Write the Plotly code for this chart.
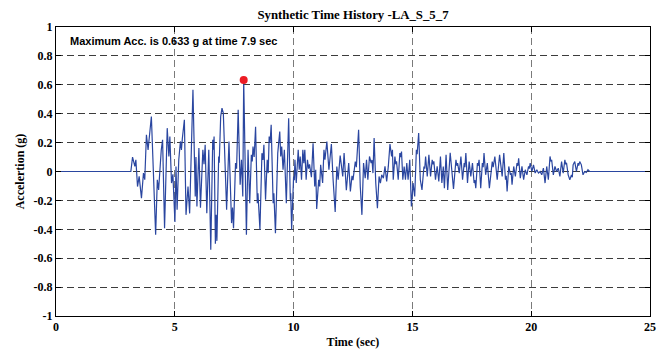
import plotly.graph_objects as go

# Ground-motion record: time (s) and acceleration (g) at the turning points of the trace
time_s = [
    0.0, 3.15, 3.222, 3.319, 3.361, 3.431, 3.5, 3.597, 3.681, 3.736, 3.806, 3.875,
    4.014, 4.097, 4.194, 4.264, 4.319, 4.431, 4.486, 4.569, 4.681, 4.75, 4.792, 4.861,
    4.92, 5.005, 5.05, 5.097, 5.167, 5.236, 5.278, 5.319, 5.403, 5.472, 5.556, 5.625,
    5.764, 5.861, 5.89, 5.931, 6.014, 6.08, 6.181, 6.23, 6.278, 6.347, 6.431, 6.514,
    6.597, 6.625, 6.653, 6.708, 6.74, 6.772, 6.847, 6.87, 6.931, 6.986, 7.042, 7.111,
    7.181, 7.28, 7.389, 7.43, 7.472, 7.556, 7.6, 7.667, 7.75, 7.806, 7.861, 7.9,
    8.014, 8.083, 8.153, 8.222, 8.26, 8.292, 8.34, 8.4, 8.472, 8.5, 8.583, 8.667,
    8.71, 8.75, 8.819, 8.889, 8.931, 8.972, 9.01, 9.056, 9.139, 9.17, 9.236, 9.333,
    9.417, 9.458, 9.5, 9.556, 9.611, 9.694, 9.792, 9.861, 9.88, 9.917, 10.0, 10.03,
    10.056, 10.111, 10.194, 10.236, 10.278, 10.333, 10.389, 10.431, 10.472, 10.528, 10.583, 10.63,
    10.67, 10.75, 10.819, 10.889, 10.931, 10.972, 11.056, 11.097, 11.139, 11.222, 11.278, 11.319,
    11.4, 11.486, 11.59, 11.66, 11.75, 11.819, 11.875, 11.96, 12.069, 12.125, 12.22, 12.319,
    12.389, 12.458, 12.5, 12.597, 12.64, 12.736, 12.806, 12.875, 12.944, 13.014, 13.069, 13.125,
    13.194, 13.264, 13.3, 13.34, 13.389, 13.458, 13.528, 13.597, 13.653, 13.708, 13.778, 13.847,
    13.917, 13.986, 14.056, 14.125, 14.16, 14.194, 14.264, 14.3, 14.333, 14.403, 14.472, 14.5,
    14.542, 14.597, 14.653, 14.708, 14.764, 14.819, 14.889, 14.958, 15.028, 15.097, 15.167, 15.2,
    15.264, 15.333, 15.403, 15.486, 15.52, 15.556, 15.625, 15.694, 15.764, 15.833, 15.87, 15.903,
    15.972, 16.042, 16.111, 16.181, 16.24, 16.3, 16.347, 16.417, 16.486, 16.59, 16.73, 16.833,
    16.87, 16.903, 16.972, 17.042, 17.111, 17.181, 17.21, 17.25, 17.319, 17.389, 17.458, 17.528,
    17.597, 17.63, 17.667, 17.736, 17.77, 17.806, 17.875, 17.944, 17.98, 18.014, 18.083, 18.153,
    18.24, 18.361, 18.4, 18.47, 18.569, 18.67, 18.778, 18.847, 18.917, 18.95, 18.986, 19.056,
    19.125, 19.16, 19.194, 19.264, 19.333, 19.403, 19.44, 19.472, 19.542, 19.611, 19.681, 19.75,
    19.819, 19.889, 19.92, 19.958, 20.028, 20.097, 20.167, 20.236, 20.306, 20.375, 20.444, 20.514,
    20.583, 20.653, 20.722, 20.792, 20.83, 20.861, 20.931, 21.0, 21.069, 21.139, 21.208, 21.278,
    21.347, 21.417, 21.45, 21.486, 21.556, 21.625, 21.694, 21.73, 21.764, 21.833, 21.903, 21.972,
    22.0, 22.042, 22.111, 22.181, 22.25, 22.319, 22.389, 22.458, 25.0,
]
accel_g = [
    0.0, 0.0, 0.099, 0.035, 0.081, -0.104, -0.034, -0.184, -0.011, -0.057, 0.254, 0.15,
    0.381, -0.011, -0.438, -0.057, -0.127, 0.15, 0.219, -0.392, 0.3, 0.104, 0.242, -0.08,
    -0.02, -0.35, 0.035, -0.265, 0.081, 0.208, 0.15, 0.231, 0.358, -0.3, -0.104, -0.29,
    0.565, -0.173, 0.1, -0.242, 0.162, -0.25, 0.15, 0.05, 0.185, -0.288, 0.15, -0.542,
    0.219, 0.15, 0.242, -0.5, -0.3, -0.48, 0.104, 0.06, 0.381, 0.439, 0.404, 0.127,
    -0.265, 0.208, -0.357, -0.25, -0.392, 0.058, 0.02, 0.427, -0.092, 0.081, -0.173, 0.633,
    -0.438, 0.15, -0.219, 0.116, 0.07, 0.173, 0.1, 0.31, -0.219, -0.15, -0.403, 0.127,
    0.08, 0.185, -0.196, 0.081, -0.011, 0.242, 0.2, 0.323, -0.219, -0.15, -0.427, 0.127,
    0.277, 0.104, 0.173, 0.012, 0.15, -0.219, 0.369, -0.196, -0.15, -0.403, -0.034, -0.06,
    0.081, -0.08, 0.15, 0.012, 0.104, -0.057, 0.15, 0.058, 0.15, -0.057, 0.081, 0.02,
    0.05, -0.04, 0.196, -0.104, 0.012, -0.26, -0.057, -0.104, 0.046, -0.08, 0.15, 0.081,
    0.208, 0.012, 0.19, -0.05, -0.28, 0.035, -0.057, 0.11, -0.034, 0.127, -0.13, 0.058,
    -0.138, -0.03, -0.06, 0.069, 0.03, 0.289, -0.104, -0.3, 0.058, -0.046, 0.081, -0.057,
    0.104, 0.058, 0.08, -0.011, 0.231, -0.08, -0.254, -0.034, -0.08, -0.023, -0.046, 0.035,
    -0.069, 0.035, 0.19, 0.104, 0.15, -0.057, 0.104, 0.05, 0.07, -0.057, 0.127, 0.1,
    0.138, -0.057, 0.035, -0.057, 0.058, -0.057, 0.081, -0.242, -0.08, -0.173, 0.15, 0.12,
    0.266, -0.057, -0.127, 0.035, 0.02, 0.104, -0.034, 0.115, -0.034, 0.081, 0.05, 0.07,
    -0.057, 0.035, -0.069, 0.104, -0.08, 0.035, -0.115, 0.116, -0.127, 0.13, -0.12, 0.081,
    0.04, 0.058, -0.011, 0.104, -0.057, 0.058, 0.03, 0.127, -0.08, 0.069, -0.034, 0.058,
    -0.08, -0.06, -0.115, 0.058, 0.04, 0.081, -0.115, 0.058, 0.03, 0.127, -0.023, 0.058,
    -0.115, 0.069, 0.03, 0.104, -0.057, 0.115, -0.034, 0.127, -0.057, -0.03, -0.138, 0.035,
    -0.023, -0.01, -0.092, 0.035, -0.034, 0.058, 0.04, 0.092, -0.046, 0.035, -0.057, 0.012,
    -0.023, 0.035, 0.02, 0.058, 0.0, 0.046, -0.011, 0.012, -0.011, 0.0, -0.023, 0.023,
    -0.08, 0.035, -0.057, 0.104, 0.07, 0.081, -0.023, 0.035, 0.0, 0.023, -0.034, 0.069,
    -0.011, 0.081, 0.05, 0.06, -0.023, -0.057, -0.023, -0.04, 0.046, 0.069, 0.0, 0.058,
    0.04, 0.069, 0.046, -0.023, 0.0, -0.007, 0.012, 0.0, 0.0,
]

# Peak ground acceleration and when it occurs
peak_time = 7.9
peak_acc = 0.633

# Axis ticks
x_ticks = [0, 5, 10, 15, 20, 25]
y_ticks = [-1, -0.8, -0.6, -0.4, -0.2, 0, 0.2, 0.4, 0.6, 0.8, 1]
y_tick_labels = ["-1", "-0.8", "-0.6", "-0.4", "-0.2", "0", "0.2", "0.4", "0.6", "0.8", "1"]

serif = "Liberation Serif, Times New Roman, serif"
sans = "Liberation Sans, Arial, sans-serif"

fig = go.Figure()
fig.add_trace(go.Scatter(
    x=time_s, y=accel_g, mode="lines",
    line=dict(color="#2a46a0", width=1.2),
    hoverinfo="skip", showlegend=False,
))
fig.add_trace(go.Scatter(
    x=[peak_time], y=[peak_acc], mode="markers",
    marker=dict(color="#ec1c24", size=8, line=dict(width=0)),
    showlegend=False,
))

fig.add_annotation(
    text=f"Maximum Acc. is {peak_acc:.3f} g at time {peak_time:.1f} sec",
    xref="paper", yref="y", x=0.02, y=0.9,
    xanchor="left", yanchor="middle", showarrow=False,
    font=dict(family=sans, size=11, color="black", weight="bold"),
)

axis_common = dict(
    showline=True, linecolor="black", linewidth=1, mirror="allticks",
    ticks="inside", ticklen=5, tickcolor="black", tickwidth=1,
    zeroline=False, showgrid=True, gridwidth=1,
    tickfont=dict(family=serif, size=12, color="black", weight="bold"),
)

fig.update_layout(
    width=665, height=356,
    margin=dict(l=56, r=9, t=27, b=40),
    paper_bgcolor="white", plot_bgcolor="white",
    title=dict(
        text="Synthetic Time History -LA_S_5_7",
        x=0.5, xref="paper", xanchor="center",
        y=1 - 15 / 356, yref="container", yanchor="middle",
        font=dict(family=serif, size=12.8, color="black", weight="bold"),
    ),
    xaxis=dict(
        range=[0, 25], tickvals=x_ticks, gridcolor="#7a7a7a", griddash="7px,4px",
        title=dict(text="Time (sec)", standoff=4,
                   font=dict(family=serif, size=12, color="black", weight="bold")),
        **axis_common,
    ),
    yaxis=dict(
        range=[-1, 1], tickvals=y_ticks, ticktext=y_tick_labels,
        gridcolor="#3c3c3c", griddash="7px,4px",
        title=dict(text="Accelertion (g)", standoff=6,
                   font=dict(family=serif, size=12, color="black", weight="bold")),
        **axis_common,
    ),
)

fig.write_html("out.html")
